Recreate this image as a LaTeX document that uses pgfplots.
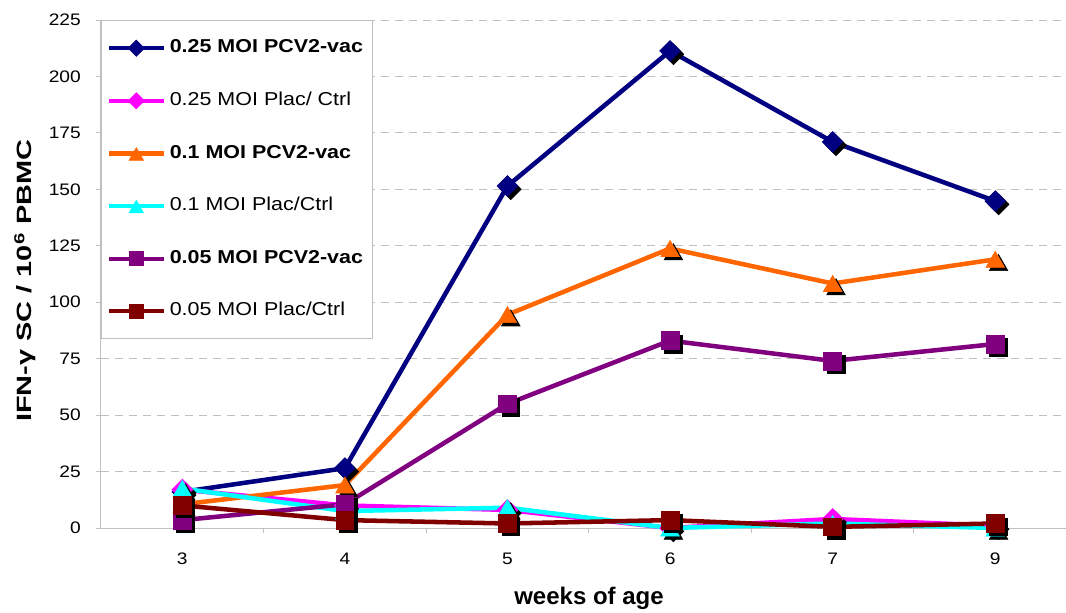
\documentclass[border=0pt]{standalone}
\usepackage{fontspec}
\setmainfont{Liberation Sans}
\newfontfamily\widefont{Liberation Sans}[FakeStretch=1.15]
\usepackage{graphicx}
\usepackage{pgfplots}
\pgfplotsset{compat=1.18}
\definecolor{cnavy}{HTML}{000080}
\definecolor{cmag}{HTML}{FF00FF}
\definecolor{corange}{HTML}{FF6600}
\definecolor{ccyan}{HTML}{00FFFF}
\definecolor{cpurple}{HTML}{800080}
\definecolor{cmaroon}{HTML}{800000}
\definecolor{gridgray}{HTML}{C0C0C0}

\pgfplotstableread{
x y
0 16
1 26.5
2 151.5
3 211.3
4 171
5 144.8
}\navyvac
\pgfplotstableread{
x y
0 17
1 10
2 8
3 0
4 4
5 1
}\magctrl
\pgfplotstableread{
x y
0 10.5
1 19
2 94.5
3 123.8
4 108.3
5 119
}\orangevac
\pgfplotstableread{
x y
0 17.5
1 7.5
2 9
3 0
4 2
5 0
}\cyanctrl
\pgfplotstableread{
x y
0 3.5
1 10.5
2 55
3 83
4 74
5 81.5
}\purplevac
\pgfplotstableread{
x y
0 10
1 3.5
2 2
3 3.5
4 0.5
5 2
}\maroonctrl

\begin{document}
\begin{tikzpicture}
\begin{axis}[
  at={(0,0)}, anchor=south west,
  scale only axis, width=723.75pt, height=381pt,
  xmin=-0.5, xmax=5.435, ymin=0, ymax=225,
  clip=false,
  axis lines*=left,
  axis line style={draw=gridgray, line width=0.75pt},
  xtick={0,...,5}, xticklabels={3,4,5,6,7,9},
  minor xtick={0.5,1.5,2.5,3.5,4.5},
  ytick={0,25,...,225},
  tick align=outside,
  major tick length=3.75pt, minor tick length=3.75pt,
  major x tick style={draw=none},
  tick style={draw=gridgray, line width=0.75pt},
  ymajorgrids,
  y grid style={draw=gridgray, line width=0.75pt, dash pattern=on 6pt off 4.5pt},
  /pgf/number format/assume math mode=true,
  tick label style={font=\widefont\fontsize{12.5}{14}\selectfont},
  yticklabel style={inner sep=0pt, anchor=east, xshift=-9.75pt},
  xticklabel style={inner sep=0pt, anchor=north, yshift=-13pt},
  xlabel={\textbf{weeks of age}},
  xlabel style={font=\fontsize{18}{20}\selectfont, at={(axis description cs:0.5057,-0.1378)}, anchor=center},
  ylabel={\scalebox{1.4}[1]{\textbf{IFN-γ SC / 10\textsuperscript{6} PBMC}}},
  ylabel style={font=\fontsize{15.5}{18}\selectfont, at={(axis description cs:-0.0788,0.487)}, anchor=center},
  legend cell align=left,
  legend image code/.code={\draw[line width=3.2pt, mark repeat=2,mark phase=2,#1] plot coordinates {(0pt,0pt) (20.5pt,0pt) (41pt,0pt)};},
  legend image post style={line width=3.2pt, every mark/.append style={scale=0.78, line width=0.5pt}},
  legend style={at={(0,1)}, anchor=north west, draw=gridgray, line width=0.75pt, fill=white,
    font=\widefont\fontsize{14}{16}\selectfont,
    inner xsep=4pt, inner ysep=13.8pt, row sep=25.45pt,
    nodes={inner xsep=3pt, inner ysep=0pt, text height=10.5pt, text depth=3.5pt}},
  line width=3.4pt,
  dia/.style={mark=square*, mark size=5.5pt, mark options={solid, rotate=45, line width=0.5pt}},
  diash/.style={only marks, black, forget plot, mark=square*, mark size=5.5pt, mark options={xshift=2.5pt, yshift=-2.5pt, rotate=45, line width=0.5pt}},
  tri/.style={mark=triangle*, mark size=8pt, mark options={solid, yshift=-2pt, line width=0.5pt}},
  trish/.style={only marks, black, forget plot, mark=triangle*, mark size=8pt, mark options={xshift=2.5pt, yshift=-4.5pt, line width=0.5pt}},
  sq/.style={mark=square*, mark size=6.7pt, mark options={solid, line width=0.5pt}},
  sqsh/.style={only marks, black, forget plot, mark=square*, mark size=6.7pt, mark options={xshift=2.5pt, yshift=-2.5pt, line width=0.5pt}},
]
\addplot[diash] table {\navyvac};
\addplot[cnavy, dia] table {\navyvac};
\addlegendentry{\textbf{0.25 MOI PCV2-vac}}
\addplot[diash] table {\magctrl};
\addplot[cmag, dia] table {\magctrl};
\addlegendentry{0.25 MOI Plac/ Ctrl}
\addplot[trish] table {\orangevac};
\addplot[corange, tri] table {\orangevac};
\addlegendentry{\textbf{0.1 MOI PCV2-vac}}
\addplot[trish] table {\cyanctrl};
\addplot[ccyan, tri] table {\cyanctrl};
\addlegendentry{0.1 MOI Plac/Ctrl}
\addplot[sqsh] table {\purplevac};
\addplot[cpurple, sq] table {\purplevac};
\addlegendentry{\textbf{0.05 MOI PCV2-vac}}
\addplot[sqsh] table {\maroonctrl};
\addplot[cmaroon, sq] table {\maroonctrl};
\addlegendentry{0.05 MOI Plac/Ctrl}
\end{axis}
\pgfresetboundingbox
\path[use as bounding box] (-75.75pt,-63pt) rectangle (723.75pt,396pt);
\end{tikzpicture}
\end{document}
